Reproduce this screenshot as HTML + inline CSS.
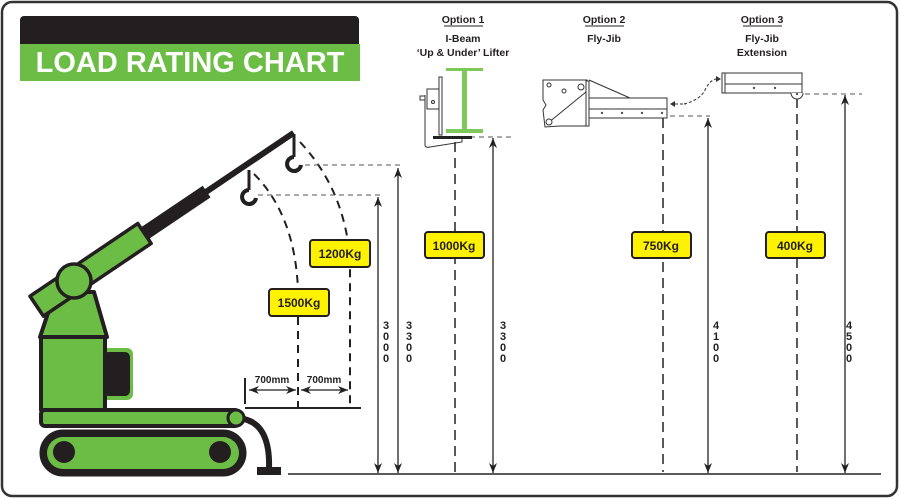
<!DOCTYPE html>
<html><head><meta charset="utf-8"><style>
html,body{margin:0;padding:0;background:#fff;}
svg{display:block;}
text{font-family:"Liberation Sans",sans-serif;}
</style></head><body>
<svg width="901" height="499" viewBox="0 0 901 499" xmlns="http://www.w3.org/2000/svg">
<defs>
<marker id="ah" markerWidth="10" markerHeight="8" refX="10" refY="4" orient="auto-start-reverse" markerUnits="userSpaceOnUse"><path d="M0,0 L10,4 L0,8 L3,4 Z" fill="#222"/></marker>
</defs>
<rect x="2" y="2" width="895" height="494" rx="10" fill="#fff" stroke="#333" stroke-width="2.5"/>
<!-- header -->
<path d="M20,20 a4,4 0 0 1 4,-4 H355 a4,4 0 0 1 4,4 V44 H20 Z" fill="#231f20"/>
<rect x="20" y="44" width="340" height="37" fill="#6cbd45"/>
<text x="190" y="72" text-anchor="middle" font-size="29" font-weight="bold" fill="#fff">LOAD RATING CHART</text>

<!-- ground line -->
<line x1="288" y1="474" x2="881" y2="474" stroke="#222" stroke-width="1.5"/>

<!-- crane -->
<g stroke="#231f20" stroke-linejoin="round">
<path d="M238,418 C262,420 270,440 269,469" fill="none" stroke-width="6"/>
<rect x="257" y="467" width="24" height="8" fill="#231f20" stroke="none"/>
<rect x="40" y="430" width="206" height="46" rx="23" fill="#231f20"/>
<rect x="47" y="437" width="192" height="32" rx="16" fill="#6cbd45" stroke="none"/>
<circle cx="64" cy="452" r="11" fill="#231f20" stroke="none"/>
<circle cx="220" cy="452" r="11" fill="#231f20" stroke="none"/>
<rect x="100" y="348" width="33" height="52" rx="6" fill="#6cbd45" stroke="none"/>
<rect x="103" y="352" width="27" height="44" rx="5" fill="#231f20" stroke="none"/>
<rect x="41" y="410" width="198" height="16" rx="4" fill="#6cbd45" stroke-width="4"/>
<circle cx="236" cy="418" r="8" fill="#6cbd45" stroke-width="3"/>
<rect x="41" y="337" width="64" height="73" fill="#6cbd45" stroke-width="4"/>
<polygon points="40,337 107,337 94,292 55,292" fill="#6cbd45" stroke-width="4"/>
<g transform="translate(74,281) rotate(-34)">
<line x1="80" y1="0" x2="265" y2="0" stroke-width="6"/>
<rect x="60" y="-7" width="100" height="14" fill="#231f20" stroke="none"/>
<rect x="-45" y="-12" width="130" height="24" fill="#6cbd45" stroke-width="3.5"/>
</g>
<circle cx="74" cy="281" r="17" fill="#6cbd45" stroke-width="3.5"/>
<line x1="294" y1="134" x2="294" y2="157" stroke-width="3"/>
<path d="M294,157 a7,7 0 1 0 7,8" fill="none" stroke-width="4"/>
<line x1="249" y1="170" x2="249" y2="190" stroke-width="3"/>
<path d="M249,190 a7,7 0 1 0 7,8" fill="none" stroke-width="4"/>
</g>
<!-- arcs -->
<path d="M300,142 Q345,190 350,260 L350,408" fill="none" stroke="#231f20" stroke-width="2" stroke-dasharray="8,6"/>
<path d="M254,174 Q295,215 298,290 L298,408" fill="none" stroke="#231f20" stroke-width="2" stroke-dasharray="8,6"/>
<!-- 700mm -->
<line x1="245" y1="378" x2="245" y2="404" stroke="#222" stroke-width="2"/>
<line x1="245" y1="408" x2="361" y2="408" stroke="#222" stroke-width="2"/>
<line x1="249" y1="390" x2="296" y2="390" stroke="#222" stroke-width="1.2" marker-start="url(#ah)" marker-end="url(#ah)"/>
<line x1="301" y1="390" x2="348" y2="390" stroke="#222" stroke-width="1.2" marker-start="url(#ah)" marker-end="url(#ah)"/>
<text x="272" y="383" text-anchor="middle" font-size="10" font-weight="bold" fill="#222">700mm</text>
<text x="324" y="383" text-anchor="middle" font-size="10" font-weight="bold" fill="#222">700mm</text>

<!-- horizontal dashed -->
<g stroke="#555" stroke-width="1" stroke-dasharray="5,4" fill="none">
<line x1="305" y1="165" x2="400" y2="165"/>
<line x1="258" y1="195" x2="380" y2="195"/>
<line x1="470" y1="137" x2="515" y2="137"/>
<line x1="670" y1="116" x2="710" y2="116"/>
<line x1="805" y1="94" x2="862" y2="94"/>
</g>
<!-- vertical arrows -->
<g stroke="#222" stroke-width="1.3" marker-start="url(#ah)" marker-end="url(#ah)">
<line x1="378" y1="197" x2="378" y2="473"/>
<line x1="398" y1="168" x2="398" y2="473"/>
<line x1="493" y1="138" x2="493" y2="473"/>
<line x1="708" y1="118" x2="708" y2="473"/>
<line x1="845" y1="95" x2="845" y2="473"/>
</g>
<!-- dashed verticals -->
<g stroke="#222" stroke-width="1.5" stroke-dasharray="10,6">
<line x1="455" y1="142" x2="455" y2="474"/>
<line x1="663" y1="118" x2="663" y2="472"/>
<line x1="797" y1="98" x2="797" y2="472"/>
</g>
<!-- vertical numbers -->
<g font-size="11" font-weight="bold" fill="#222" text-anchor="middle">
<text x="386" y="329">3</text><text x="386" y="340">0</text><text x="386" y="351">0</text><text x="386" y="362">0</text>
<text x="409" y="329">3</text><text x="409" y="340">3</text><text x="409" y="351">0</text><text x="409" y="362">0</text>
<text x="503" y="329">3</text><text x="503" y="340">3</text><text x="503" y="351">0</text><text x="503" y="362">0</text>
<text x="716" y="329">4</text><text x="716" y="340">1</text><text x="716" y="351">0</text><text x="716" y="362">0</text>
<text x="849" y="329">4</text><text x="849" y="340">5</text><text x="849" y="351">0</text><text x="849" y="362">0</text>
</g>
<!-- kg boxes -->
<g font-size="12" font-weight="bold" fill="#231f20" text-anchor="middle">
<rect x="310" y="240" width="60" height="27" rx="3" fill="#fff200" stroke="#231f20" stroke-width="2"/><text x="340" y="258">1200Kg</text>
<rect x="269" y="289" width="60" height="27" rx="3" fill="#fff200" stroke="#231f20" stroke-width="2"/><text x="299" y="307">1500Kg</text>
<rect x="425" y="232" width="59" height="26" rx="3" fill="#fff200" stroke="#231f20" stroke-width="2"/><text x="454" y="250">1000Kg</text>
<rect x="632" y="232" width="59" height="26" rx="3" fill="#fff200" stroke="#231f20" stroke-width="2"/><text x="661" y="250">750Kg</text>
<rect x="766" y="232" width="59" height="26" rx="3" fill="#fff200" stroke="#231f20" stroke-width="2"/><text x="795" y="250">400Kg</text>
</g>
<!-- option titles -->
<g font-size="10.5" font-weight="bold" fill="#231f20" text-anchor="middle">
<text x="463" y="23">Option 1</text><line x1="444" y1="26" x2="483" y2="26" stroke="#231f20" stroke-width="1"/>
<text x="463" y="42">I-Beam</text><text x="463" y="56">‘Up &amp; Under’ Lifter</text>
<text x="604" y="23">Option 2</text><line x1="585" y1="26" x2="624" y2="26" stroke="#231f20" stroke-width="1"/>
<text x="604" y="42">Fly-Jib</text>
<text x="762" y="23">Option 3</text><line x1="743" y1="26" x2="782" y2="26" stroke="#231f20" stroke-width="1"/>
<text x="762" y="42">Fly-Jib</text><text x="762" y="56">Extension</text>
</g>
<!-- I-beam lifter -->
<path d="M446,68 H483 V71 H467 V129 H483 V133 H446 V129 H462 V71 H446 Z" fill="#7cc95a"/>
<g fill="none" stroke="#333" stroke-width="1">
<rect x="439" y="77" width="3" height="58"/>
<rect x="427" y="89" width="12" height="20"/>
<rect x="420" y="96" width="5" height="4"/>
<path d="M425,95 V145 Q425,148 430,147 L462,142 V137"/>
<circle cx="433" cy="102" r="1.5"/>
</g>
<rect x="433" y="136" width="39" height="3" fill="#222"/>
<!-- fly-jib -->
<g fill="#fff" stroke="#333" stroke-width="1">
<path d="M543,80 H587 V126 H560 L545,127 L543,110 L546,105 L543,100 Z"/>
<path d="M589,80 L630,98" fill="none"/>
<path d="M548,123 L586,92" fill="none"/>
<rect x="586" y="81" width="3" height="45"/>
<rect x="589" y="98" width="78" height="20"/>
<line x1="589" y1="109" x2="667" y2="109"/>
<circle cx="549" cy="85" r="2"/><circle cx="564" cy="91" r="2"/><circle cx="581" cy="87" r="3"/><circle cx="549" cy="122" r="3"/>
</g>
<g fill="#555"><circle cx="602" cy="113" r="1.2"/><circle cx="622" cy="113" r="1.2"/><circle cx="642" cy="113" r="1.2"/><circle cx="662" cy="113" r="1.2"/></g>
<!-- extension -->
<g fill="#fff" stroke="#333" stroke-width="1">
<rect x="722" y="73" width="80" height="20"/>
<line x1="725" y1="84" x2="802" y2="84"/>
<line x1="725" y1="73" x2="725" y2="93"/>
<path d="M791,93 a6,6 0 0 0 12,0"/>
</g>
<g fill="#555"><circle cx="754" cy="88" r="1.2"/><circle cx="775" cy="88" r="1.2"/><circle cx="797" cy="94" r="1.2"/></g>
<path d="M684,104 Q700,100 705,90 Q710,80 716,79" fill="none" stroke="#333" stroke-width="1" stroke-dasharray="3,2"/>
<path d="M716,76 L721,79 L716,82 Z" fill="#333"/>
<path d="M670,104 L675,101 L675,107 Z" fill="#333"/>
<line x1="675" y1="104" x2="686" y2="104" stroke="#333" stroke-width="1" stroke-dasharray="3,2"/>
</svg>
</body></html>
